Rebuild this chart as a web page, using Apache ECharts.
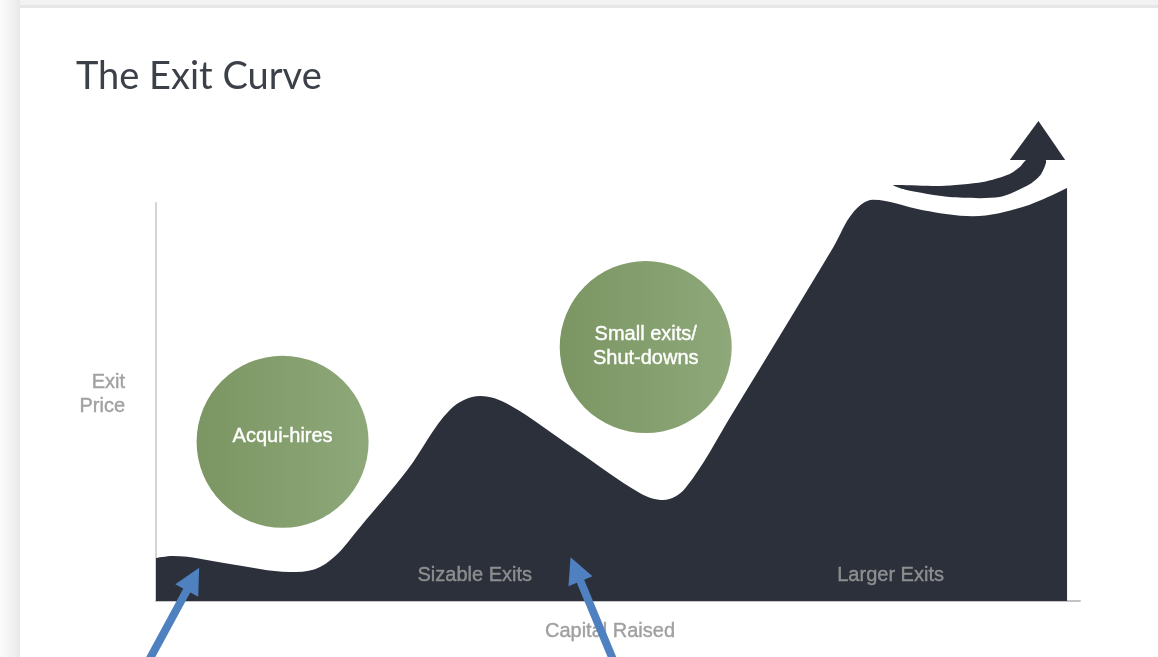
<!DOCTYPE html>
<html><head><meta charset="utf-8">
<script src="https://cdn.jsdelivr.net/npm/echarts@6/dist/echarts.min.js"></script>
<style>html,body{margin:0;padding:0;background:#fff}#c{width:1158px;height:657px}</style>
</head><body><div id="c"></div>
<script>
// Exit curve (capital raised 0-100, exit price 0-100)
var curveX = [0, 1.8, 8.0, 14.5, 17.2, 19.4, 22.1, 27.2, 31.8, 35.1, 38.3, 45.3, 52.4, 54.9, 57.3, 62.4, 73.3, 75.4, 77.6, 83.0, 88.4, 93.8, 98.6];
var curveY = [10.8, 11.3, 9.3, 7.3, 8.0, 11.3, 18.6, 32.9, 48.0, 51.5, 49.2, 38.2, 27.1, 25.4, 28.4, 47.2, 88.9, 97.5, 100.8, 98.2, 96.7, 99.0, 103.8];
// Growth arrow above the curve
var arrowUpperX = [79.8, 84.9, 89.5, 92.4, 93.6, 94.2];
var arrowUpperY = [104.5, 104.3, 105.3, 107.3, 109.3, 110.8];
var arrowLowerX = [96.3, 95.8, 94.6, 91.3, 85.9, 81.1];
var arrowLowerY = [110.8, 107.3, 104.8, 101.5, 101.5, 103.3];
var arrowHeadX = [92.4, 95.5, 98.4];
var arrowHeadY = [110.8, 120.6, 110.8];
// Bubbles
var bubbleNames = ['Acqui-hires', 'Small exits/\nShut-downs'];
var bubbleX = [13.7, 53.0];
var bubbleY = [40.0, 63.8];
// Region labels
var regionNames = ['Sizable Exits', 'Larger Exits'];
var regionX = [34.5, 79.5];
var regionY = [6.3, 6.3];
// Axis titles
var xAxisTitle = 'Capital Raised';
var yAxisTitle = 'Exit\nPrice';
// Blue annotation arrows
var noteFromX = [-0.9, 49.6];
var noteFromY = [-15.5, -15.5];
var noteToX = [4.0, 45.4];
var noteToY = [5.5, 8.0];

var curveData = curveX.map(function (x, i) { return [x, curveY[i]]; });
var arrowPoly = [];
arrowUpperX.forEach(function (x, i) { arrowPoly.push([x, arrowUpperY[i]]); });
arrowLowerX.forEach(function (x, i) { arrowPoly.push([x, arrowLowerY[i]]); });
var headPoly = arrowHeadX.map(function (x, i) { return [x, arrowHeadY[i]]; });
var labelOffsets = [[0, -5], [0, -1]];

var chart = echarts.init(document.getElementById('c'));
var dark = '#2b303a';
var grayText = { fontFamily: 'Liberation Sans', fontSize: 20, color: '#a0a0a0', textBorderColor: '#a0a0a0', textBorderWidth: 0.4 };
chart.setOption({
  animation: false,
  backgroundColor: '#ffffff',
  graphic: [
    { type: 'rect', shape: { x: 0, y: 0, width: 1158, height: 8 }, style: { fill: '#f2f2f2' }, z: -10 },
    { type: 'rect', shape: { x: 0, y: 5, width: 1158, height: 3 }, style: { fill: '#e6e6e6' }, z: -9 },
    { type: 'rect', shape: { x: 0, y: 0, width: 20, height: 657 },
      style: { fill: new echarts.graphic.LinearGradient(0, 0, 1, 0, [{ offset: 0, color: '#fbfbfb' }, { offset: 0.6, color: '#f1f1f1' }, { offset: 1, color: '#e8e8e8' }]) }, z: -8 },
    { type: 'text', x: 125, y: 370,
      style: { text: yAxisTitle, align: 'right', verticalAlign: 'top', lineHeight: 24, fill: '#a0a0a0', stroke: '#a0a0a0', lineWidth: 0.4, font: '20px "Liberation Sans"' } }
  ],
  title: {
    text: 'The Exit Curve', left: 71, top: 53,
    textStyle: { fontFamily: 'Lato', fontWeight: 'normal', fontSize: 38, color: '#3c4048' }
  },
  grid: { left: 156, right: 78, top: 203, bottom: 56 },
  xAxis: {
    type: 'value', min: 0, max: 100,
    name: xAxisTitle, nameLocation: 'middle', nameGap: 20,
    nameTextStyle: Object.assign({}, grayText, { padding: [0, 16, 0, 0] }),
    axisLine: { show: true, lineStyle: { color: '#c4c4c4', width: 2 } },
    axisTick: { show: false }, axisLabel: { show: false }, splitLine: { show: false }
  },
  yAxis: {
    type: 'value', min: 0, max: 100,
    axisLine: { show: true, lineStyle: { color: '#d4d4d4', width: 2 } },
    axisTick: { show: false }, axisLabel: { show: false }, splitLine: { show: false }
  },
  series: [
    {
      type: 'line', data: curveData, smooth: 0.35, symbol: 'none', clip: false,
      lineStyle: { width: 0, color: dark }, areaStyle: { color: dark, opacity: 1 }, z: 2
    },
    {
      type: 'custom', clip: false, z: 3,
      data: [0],
      renderItem: function (params, api) {
        return {
          type: 'group', children: [
            { type: 'polygon', shape: { points: arrowPoly.map(function (p) { return api.coord(p); }), smooth: 0.25 }, style: { fill: dark } },
            { type: 'polygon', shape: { points: headPoly.map(function (p) { return api.coord(p); }) }, style: { fill: dark } }
          ]
        };
      }
    },
    {
      type: 'scatter', symbol: 'circle', symbolSize: 172, z: 4,
      data: bubbleNames.map(function (n, i) { return { name: n, value: [bubbleX[i], bubbleY[i]], label: { offset: labelOffsets[i] } }; }),
      itemStyle: { color: new echarts.graphic.LinearGradient(0, 0, 1, 0, [{ offset: 0, color: '#7b9662' }, { offset: 1, color: '#8ea87a' }]), opacity: 1 },
      label: { show: true, position: 'inside', formatter: '{b}', color: '#ffffff', fontFamily: 'Liberation Sans', fontSize: 20, lineHeight: 24, textBorderColor: '#ffffff', textBorderWidth: 0.4 }
    },
    {
      type: 'scatter', symbolSize: 0, z: 5,
      data: regionNames.map(function (n, i) { return { name: n, value: [regionX[i], regionY[i]] }; }),
      label: Object.assign({ show: true, position: 'inside', formatter: '{b}' }, grayText)
    },
    {
      type: 'lines', coordinateSystem: 'cartesian2d', clip: false, z: 10,
      symbol: ['none', 'triangle'], symbolSize: [0, 26],
      lineStyle: { color: '#4f80c0', width: 8, opacity: 1, curveness: 0 },
      data: noteFromX.map(function (x, i) { return { coords: [[x, noteFromY[i]], [noteToX[i], noteToY[i]]] }; })
    }
  ]
});
</script></body></html>
